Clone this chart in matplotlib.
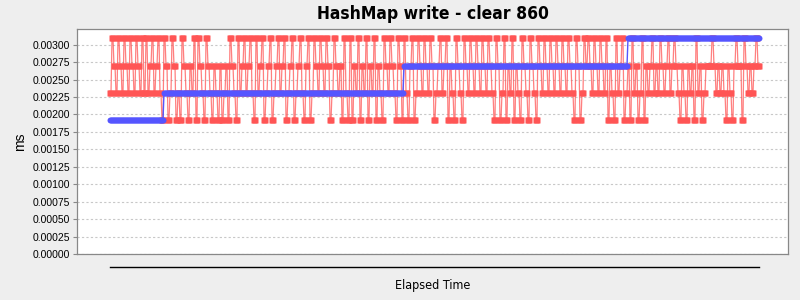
import matplotlib
matplotlib.use("Agg")
import matplotlib.pyplot as plt
import numpy as np
from matplotlib.transforms import blended_transform_factory

title = "HashMap write - clear 860"
x_label = "Elapsed Time"
y_label = "ms"

# value levels observed (ms)
levels = [0.00192, 0.00231, 0.00270, 0.00309]

# red series: level index per sample (10 samples per group)
red_codes = (
    "1133221133" "2211332211" "3322113322" "1133113311" "2233112233"
    "1100332200" "1133220011" "0033221100" "2211330033" "2211003322"
    "1100221100" "2200112200" "3322110033" "1122331122" "3311003311"
    "2233001122" "3300112233" "1122330011" "2233001122" "3311002233"
    "0011332211" "3322113322" "0011332211" "2200331100" "3300221133"
    "0022113300" "2211330022" "1100332211" "3322110033" "2200331100"
    "2233001133" "2211332211" "3322001122" "3311223300" "2211003322"
    "1100332211" "3322113322" "1133221133" "2211003322" "0011330022"
    "1133002211" "0033221100" "3322110033" "2211332211" "3322113322"
    "1133221133" "2211003322" "0011332233" "2211332211" "3322113300"
    "2211003311" "2233001122" "0033112200" "1133002211" "2233112211"
    "3322112233" "1122332211" "0022110022" "1122003311" "2200112222"
    "2233221122" "1122110022" "1100223322" "2200332211" "2211223322"
)
red_values = [levels[int(c)] for c in red_codes]

# blue series: runs of (value, count)
blue_runs = [(0.00192, 54), (0.00231, 240), (0.00270, 224), (0.00309, 132)]
blue_values = []
for v, n in blue_runs:
    blue_values += [v] * n

y_ticks = [i * 0.00025 for i in range(13)]

x = np.arange(len(red_values))

fig = plt.figure(figsize=(8, 3), dpi=100, facecolor="#eeeeee")
ax = fig.add_axes([77/800, 1-254/300, 711/800, 225/300])
ax.set_facecolor("white")

ax.plot(x, red_values, color="#ff5555", lw=0.9, alpha=0.75, zorder=2)
ax.plot(x, red_values, ls="none", marker="s", ms=4.8, color="#ff5555", mec="none", zorder=3)
ax.plot(x, blue_values, color="#5555ff", lw=1.0, zorder=4)
ax.plot(x, blue_values, ls="none", marker="o", ms=4.3, color="#5555ff", mec="none", zorder=5)

ax.set_xlim(-33, 678)
ax.set_ylim(0, 0.003225)
ax.set_yticks(y_ticks)
ax.set_yticklabels([f"{t:.5f}" for t in y_ticks], fontsize=7.5, family=["Liberation Sans", "DejaVu Sans"])
ax.set_xticks([])
ax.yaxis.grid(True, color="#c8c8c8", ls=(0, (2, 2)), lw=0.8)
ax.set_axisbelow(True)
ax.tick_params(axis="y", length=3, width=0.8, color="#888888", pad=2)
for s in ax.spines.values():
    s.set_color("#888888")
    s.set_linewidth(0.9)

ax.set_ylabel(y_label, fontsize=10, family=["Liberation Sans", "DejaVu Sans"], labelpad=4)

fig.text(433/800, 1-14/300, title, ha="center", va="center", fontsize=12.5,
         fontweight="bold", fontstretch="condensed", family=["DejaVu Sans"])

tr = blended_transform_factory(ax.transData, fig.transFigure)
ax.plot([x.min(), x.max()], [1-267/300, 1-267/300], color="black", lw=1.0,
        transform=tr, clip_on=False)
fig.text(433/800, 1-285/300, x_label, ha="center", va="center", fontsize=9,
         fontstretch="condensed", family=["DejaVu Sans"])

fig.savefig("out.png", dpi=100, facecolor=fig.get_facecolor())
